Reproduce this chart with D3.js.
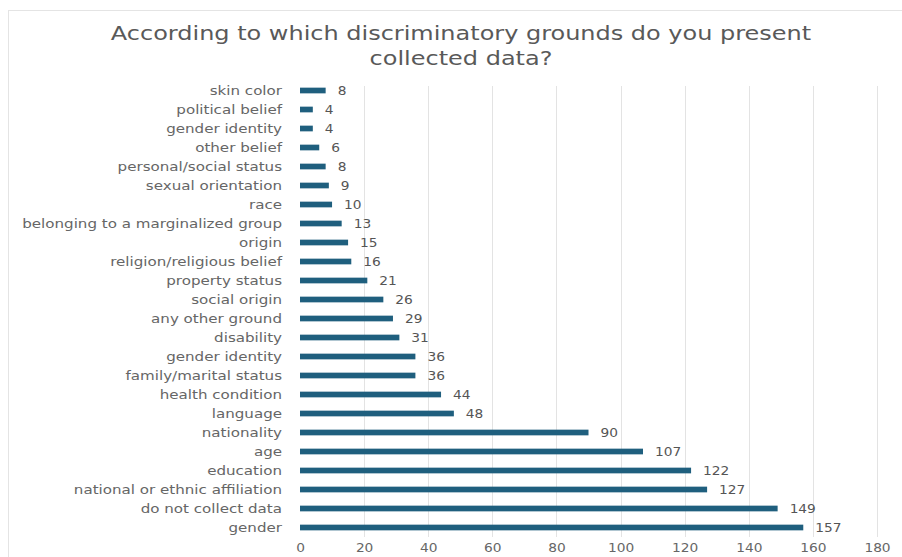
<!DOCTYPE html>
<html>
<head>
<meta charset="utf-8">
<script src="https://cdn.jsdelivr.net/npm/d3@7"></script>
<style>
  html, body { margin: 0; padding: 0; background: #fff; }
  svg { display: block; }
</style>
</head>
<body>
<svg id="chart" width="902" height="557"></svg>
<script>
// Discriminatory grounds, listed top to bottom as drawn
const categories = [
  "skin color", "political belief", "gender identity", "other belief",
  "personal/social status", "sexual orientation", "race",
  "belonging to a marginalized group", "origin", "religion/religious belief",
  "property status", "social origin", "any other ground", "disability",
  "gender identity", "family/marital status", "health condition", "language",
  "nationality", "age", "education", "national or ethnic affiliation",
  "do not collect data", "gender"
];
const counts = [8, 4, 4, 6, 8, 9, 10, 13, 15, 16, 21, 26, 29, 31, 36, 36, 44, 48, 90, 107, 122, 127, 149, 157];
const xTicks = [0, 20, 40, 60, 80, 100, 120, 140, 160, 180];
const titleLines = ["According to which discriminatory grounds do you present", "collected data?"];

const svg = d3.select("#chart");
const W = 902, H = 557;
const margin = { left: 300, top: 81 };
const plotRight = 877;
const plotBottom = 537;
const FONT = "'DejaVu Sans', sans-serif";
const STRETCH = 1.18; // wide letterforms

const rows = categories.map((c, i) => ({ key: i, label: c, value: counts[i] }));

const x = d3.scaleLinear().domain([0, 180]).range([margin.left, plotRight]);
const y = d3.scaleBand().domain(rows.map(d => d.key)).range([margin.top, plotBottom]).paddingInner(0.7).paddingOuter(0.35);

// place a text at (px, py) with a horizontal stretch about its anchor point
function stretched(sel, px, py, sx) {
  sel.attr("x", 0).attr("y", 0)
     .attr("transform", d => `translate(${typeof px === "function" ? px(d) : px},${typeof py === "function" ? py(d) : py}) scale(${sx},1)`);
}

// chart frame
svg.append("rect")
  .attr("x", 8.5).attr("y", 10.5)
  .attr("width", W).attr("height", H)
  .attr("fill", "#fff").attr("stroke", "#e4e4e4").attr("stroke-width", 1);

// title
titleLines.forEach((t, i) => {
  svg.append("text")
    .attr("text-anchor", "middle")
    .attr("font-family", FONT)
    .attr("font-size", 19.5)
    .attr("fill", "#595959")
    .text(t)
    .call(stretched, 461, 40 + i * 25, 1.23);
});

// vertical gridlines
svg.append("g")
  .selectAll("line")
  .data(xTicks.slice(1))
  .join("line")
  .attr("x1", d => Math.round(x(d)) + 0.5).attr("x2", d => Math.round(x(d)) + 0.5)
  .attr("y1", 86).attr("y2", plotBottom)
  .attr("stroke", "#e3e3e3").attr("stroke-width", 1);

// x axis tick labels
const xAxis = d3.axisBottom(x).tickValues(xTicks).tickSize(0);
const gx = svg.append("g").attr("transform", `translate(0,${plotBottom})`).call(xAxis);
gx.select(".domain").remove();
gx.selectAll("text")
  .attr("font-family", FONT)
  .attr("font-size", 12.5)
  .attr("fill", "#666")
  .attr("dy", null)
  .call(stretched, 0, 15, 1.1);

// y axis category labels
const yAxis = d3.axisLeft(y).tickFormat(i => categories[i]).tickSize(0);
const gy = svg.append("g").attr("transform", `translate(${margin.left},0)`).call(yAxis);
gy.select(".domain").remove();
gy.selectAll("text")
  .attr("font-family", FONT)
  .attr("font-size", 12.8)
  .attr("fill", "#666")
  .attr("dy", "0.35em")
  .call(stretched, -18, 0, STRETCH);

// bars
svg.append("g")
  .selectAll("rect")
  .data(rows)
  .join("rect")
  .attr("x", x(0))
  .attr("y", d => y(d.key))
  .attr("width", d => x(d.value) - x(0))
  .attr("height", y.bandwidth())
  .attr("fill", "#1f5f7e");

// value labels
svg.append("g")
  .selectAll("text")
  .data(rows)
  .join("text")
  .attr("dy", "0.35em")
  .attr("font-family", FONT)
  .attr("font-size", 12.5)
  .attr("fill", "#555")
  .text(d => d.value)
  .call(stretched, d => x(d.value) + 12, d => y(d.key) + y.bandwidth() / 2, 1.1);
</script>
</body>
</html>
